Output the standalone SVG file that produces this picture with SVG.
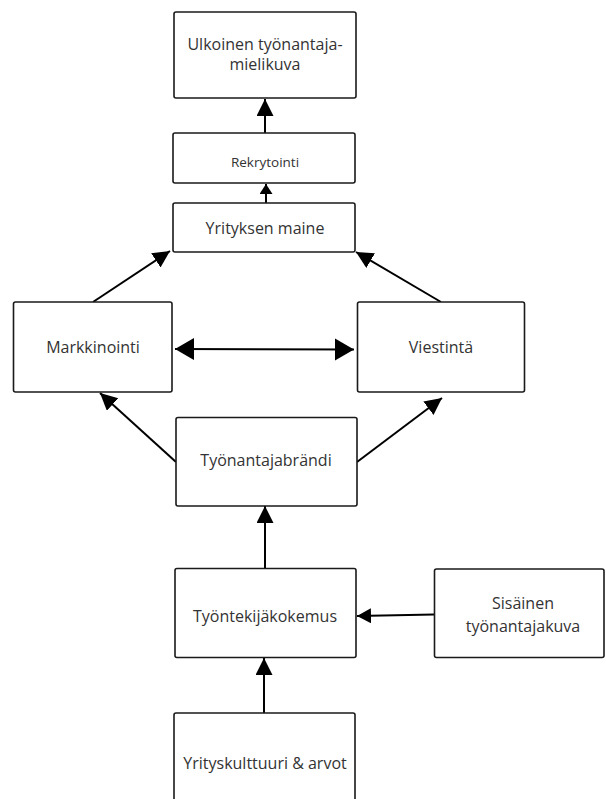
<svg xmlns="http://www.w3.org/2000/svg" width="606" height="799" viewBox="0 0 606 799">
<style>
.box{fill:#fff;stroke:#1a1a1a;stroke-width:1.6}
.t{font-family:"Open Sans","Liberation Sans",sans-serif;font-size:16px;fill:#333;text-anchor:middle;dominant-baseline:central}
.c{stroke:#000;stroke-width:2;fill:none}
</style>
<defs>
<marker id="m" markerUnits="userSpaceOnUse" markerWidth="18" markerHeight="18" refX="17" refY="8.5" orient="auto"><path d="M0,0 L17,8.5 L0,17 z" fill="#000"/></marker>
<marker id="s" markerUnits="userSpaceOnUse" markerWidth="12" markerHeight="14" refX="10" refY="6.5" orient="auto"><path d="M0,0 L10,6.5 L0,13 z" fill="#000"/></marker>
<marker id="b" markerUnits="userSpaceOnUse" markerWidth="20" markerHeight="23" refX="19" refY="11" orient="auto-start-reverse"><path d="M0,0 L19,11 L0,22 z" fill="#000"/></marker>
<marker id="h" markerUnits="userSpaceOnUse" markerWidth="15" markerHeight="16" refX="14" refY="7.5" orient="auto"><path d="M0,0 L14,7.5 L0,15 z" fill="#000"/></marker>
</defs>
<g id="connectors">
<line class="c" x1="265" y1="133" x2="265" y2="99" marker-end="url(#m)"/>
<line class="c" x1="266" y1="203" x2="266" y2="184" marker-end="url(#s)"/>
<line class="c" x1="93" y1="302" x2="170" y2="251" marker-end="url(#m)"/>
<line class="c" x1="441" y1="302" x2="356" y2="252" marker-end="url(#m)"/>
<line class="c" x1="175" y1="349" x2="354" y2="349.5" marker-start="url(#b)" marker-end="url(#b)"/>
<line class="c" x1="176" y1="462" x2="100" y2="393" marker-end="url(#m)"/>
<line class="c" x1="357" y1="462" x2="442" y2="398" marker-end="url(#m)"/>
<line class="c" x1="265" y1="568" x2="265" y2="506" marker-end="url(#m)"/>
<line class="c" x1="434" y1="614.5" x2="357" y2="616" marker-end="url(#h)"/>
<line class="c" x1="264" y1="713" x2="264" y2="658" marker-end="url(#m)"/>
</g>
<g id="ulkoinen">
<rect class="box" x="174" y="12" width="182" height="86" rx="2"/>
<text class="t" x="265" y="44">Ulkoinen työnantaja-</text>
<text class="t" x="265" y="64">mielikuva</text>
</g>
<g id="rekrytointi">
<rect class="box" x="173" y="133" width="182" height="50" rx="2"/>
<text class="t" x="265" y="162" style="font-size:13.5px">Rekrytointi</text>
</g>
<g id="yrityksen-maine">
<rect class="box" x="173" y="203" width="182" height="49" rx="2"/>
<text class="t" x="265" y="228">Yrityksen maine</text>
</g>
<g id="markkinointi">
<rect class="box" x="13.5" y="302" width="158.5" height="90" rx="2"/>
<text class="t" x="93" y="347">Markkinointi</text>
</g>
<g id="viestinta">
<rect class="box" x="357.5" y="302" width="167" height="90" rx="2"/>
<text class="t" x="441" y="347">Viestintä</text>
</g>
<g id="tyonantajabrandi">
<rect class="box" x="176" y="417.5" width="181" height="88.5" rx="2"/>
<text class="t" x="266" y="460">Työnantajabrändi</text>
</g>
<g id="tyontekijakokemus">
<rect class="box" x="175" y="568.5" width="181" height="89" rx="2"/>
<text class="t" x="265" y="616">Työntekijäkokemus</text>
</g>
<g id="sisainen">
<rect class="box" x="434.5" y="569" width="169.5" height="88.5" rx="2"/>
<text class="t" x="523" y="603">Sisäinen</text>
<text class="t" x="523" y="626">työnantajakuva</text>
</g>
<g id="yrityskulttuuri">
<rect class="box" x="174" y="713" width="181" height="100" rx="2"/>
<text class="t" x="265" y="763">Yrityskulttuuri &amp; arvot</text>
</g>
</svg>
